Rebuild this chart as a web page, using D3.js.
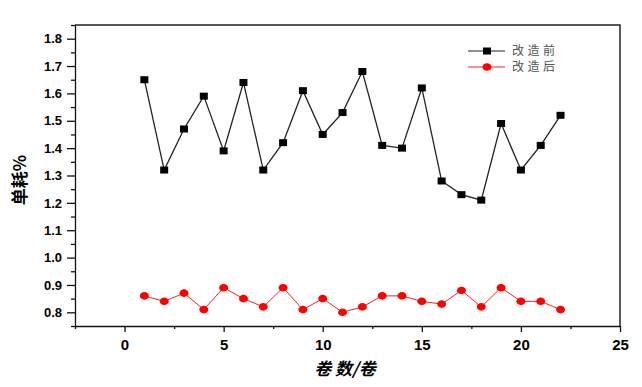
<!DOCTYPE html>
<html>
<head>
<meta charset="utf-8">
<script src="https://cdn.jsdelivr.net/npm/d3@7"></script>
<style>
  body { margin: 0; background: white; }
  .tick text { font-family: "Liberation Sans", Arial, sans-serif; font-weight: bold; fill: #000; }
</style>
</head>
<body>
<svg></svg>
<script>
// 数据
const rolls = d3.range(1, 23);
const before = [1.65, 1.32, 1.47, 1.59, 1.39, 1.64, 1.32, 1.42, 1.61, 1.45, 1.53,
                1.68, 1.41, 1.40, 1.62, 1.28, 1.23, 1.21, 1.49, 1.32, 1.41, 1.52];
const after = [0.86, 0.84, 0.87, 0.81, 0.89, 0.85, 0.82, 0.89, 0.81, 0.85, 0.80,
               0.82, 0.86, 0.86, 0.84, 0.83, 0.88, 0.82, 0.89, 0.84, 0.84, 0.81];
const seriesNames = ["改造前", "改造后"];
const xTicks = [0, 5, 10, 15, 20, 25];
const xMinor = [-2.5, 2.5, 7.5, 12.5, 17.5, 22.5];
const yTicks = [0.8, 0.9, 1.0, 1.1, 1.2, 1.3, 1.4, 1.5, 1.6, 1.7, 1.8];
const yMinor = [0.75, 0.85, 0.95, 1.05, 1.15, 1.25, 1.35, 1.45, 1.55, 1.65, 1.75, 1.85];

// SVG 设置
const width = 642;
const height = 387;
const plotL = 75, plotR = 620, plotT = 25, plotB = 326;

const svg = d3.select("svg")
  .attr("width", width)
  .attr("height", height);

svg.append("rect").attr("width", width).attr("height", height).attr("fill", "white");

const x = d3.scaleLinear().domain([-2.5, 25]).range([plotL, plotR]);
const y = d3.scaleLinear().domain([0.75, 1.85]).range([plotB, plotT]);

// 边框 (上, 右)
svg.append("path")
  .attr("d", `M${plotL},${plotT}H${plotR}V${plotB}`)
  .attr("fill", "none")
  .attr("stroke", "#222")
  .attr("stroke-width", 1.5);

// x 轴
const xAxis = svg.append("g")
  .attr("transform", `translate(0,${plotB})`)
  .call(d3.axisBottom(x).tickValues(xTicks).tickSize(6).tickSizeOuter(0).tickPadding(7));
xAxis.selectAll("text").attr("font-size", 15);
svg.append("g")
  .attr("transform", `translate(0,${plotB})`)
  .call(d3.axisBottom(x).tickValues(xMinor).tickSize(3).tickFormat("").tickSizeOuter(0))
  .select(".domain").remove();

// y 轴
const yAxis = svg.append("g")
  .attr("transform", `translate(${plotL},0)`)
  .call(d3.axisLeft(y).tickValues(yTicks).tickFormat(d3.format(".1f")).tickSize(8).tickSizeOuter(0).tickPadding(5));
yAxis.selectAll("text").attr("font-size", 13);
svg.append("g")
  .attr("transform", `translate(${plotL},0)`)
  .call(d3.axisLeft(y).tickValues(yMinor).tickSize(4).tickFormat("").tickSizeOuter(0))
  .select(".domain").remove();

svg.selectAll(".domain, .tick line").attr("stroke", "#111").attr("stroke-width", 1.3);

// 轴标题
svg.append("text")
  .attr("transform", "translate(26,180) rotate(-90)")
  .attr("text-anchor", "middle")
  .attr("font-family", "Noto Sans CJK SC")
  .attr("font-weight", "bold")
  .attr("font-size", 17)
  .text("单耗%");

svg.append("text")
  .attr("x", 345)
  .attr("y", 375)
  .attr("text-anchor", "middle")
  .attr("font-family", "Noto Sans CJK SC")
  .attr("font-weight", "bold")
  .attr("font-style", "italic")
  .attr("font-size", 17)
  .text("卷 数/卷");

// 折线
const line = d3.line().x(d => x(d[0])).y(d => y(d[1]));
const beforePts = rolls.map((r, i) => [r, before[i]]);
const afterPts = rolls.map((r, i) => [r, after[i]]);

svg.append("path")
  .datum(beforePts)
  .attr("d", line)
  .attr("fill", "none")
  .attr("stroke", "#222")
  .attr("stroke-width", 1.3);

svg.append("path")
  .datum(afterPts)
  .attr("d", line)
  .attr("fill", "none")
  .attr("stroke", "#ff2020")
  .attr("stroke-width", 1);

svg.selectAll(".sq")
  .data(beforePts)
  .enter().append("rect")
  .attr("class", "sq")
  .attr("x", d => x(d[0]) - 4)
  .attr("y", d => y(d[1]) - 3.5)
  .attr("width", 8)
  .attr("height", 7)
  .attr("fill", "black");

svg.selectAll(".dot")
  .data(afterPts)
  .enter().append("ellipse")
  .attr("class", "dot")
  .attr("cx", d => x(d[0]))
  .attr("cy", d => y(d[1]))
  .attr("rx", 4.5)
  .attr("ry", 3.8)
  .attr("fill", "#ff0000");

// 图例
const legend = svg.append("g");
seriesNames.forEach((name, i) => {
  const ly = 51 + i * 16;
  const color = i === 0 ? "#222" : "#ff2020";
  legend.append("line")
    .attr("x1", 468).attr("x2", 505)
    .attr("y1", ly).attr("y2", ly)
    .attr("stroke", color).attr("stroke-width", 1);
  if (i === 0) {
    legend.append("rect").attr("x", 483).attr("y", ly - 3.5).attr("width", 8).attr("height", 7).attr("fill", "black");
  } else {
    legend.append("ellipse").attr("cx", 487).attr("cy", ly).attr("rx", 4.5).attr("ry", 3.8).attr("fill", "#ff0000");
  }
  legend.append("text")
    .attr("x", 512)
    .attr("y", ly + 4)
    .attr("font-family", "Noto Sans CJK SC")
    .attr("font-size", 12)
    .attr("letter-spacing", 3.5)
    .attr("fill", "#555")
    .text(name);
});
</script>
</body>
</html>
